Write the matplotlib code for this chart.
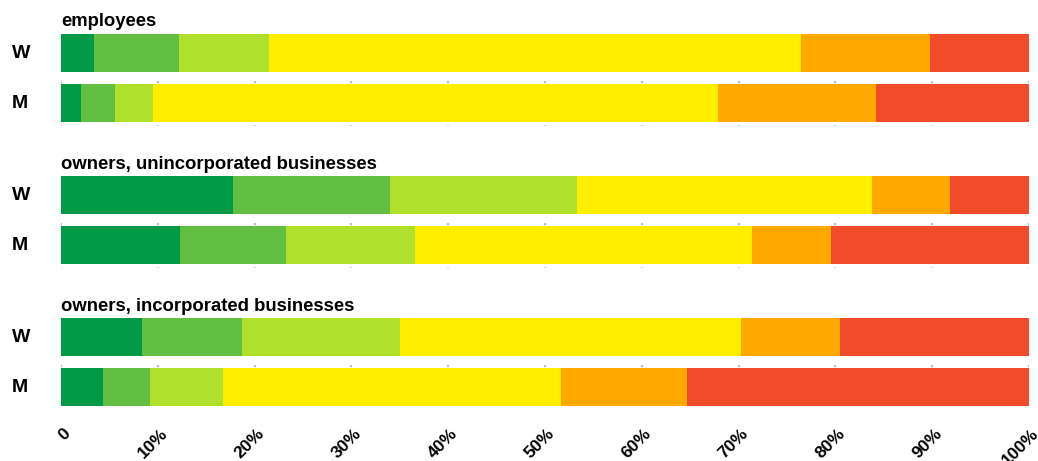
import numpy as np
import matplotlib
matplotlib.use("Agg")
import matplotlib.pyplot as plt

plt.rcParams["font.family"] = ["Liberation Sans", "DejaVu Sans"]

GROUPS = ["employees", "owners, unincorporated businesses", "owners, incorporated businesses"]
SEXES = ["W", "M"]
COLORS = ["#009a46", "#63bf41", "#afe02b", "#ffee00", "#ffa800", "#f04b2a"]

# shares (%) per category, left to right
EMP_W = [3.4, 8.8, 9.3, 54.9, 13.4, 10.2]
EMP_M = [2.1, 3.5, 3.9, 58.4, 16.3, 15.8]
UNINC_W = [17.8, 16.2, 19.3, 30.5, 8.0, 8.2]
UNINC_M = [12.3, 10.9, 13.4, 34.8, 8.1, 20.5]
INC_W = [8.4, 10.3, 16.3, 35.2, 10.3, 19.5]
INC_M = [4.3, 4.9, 7.5, 35.0, 13.0, 35.3]
DATA = [[EMP_W, EMP_M], [UNINC_W, UNINC_M], [INC_W, INC_M]]

TICKS = np.arange(0, 101, 10)
TICKLABELS = ["0"] + [f"{t}%" for t in TICKS[1:]]

fig = plt.figure(figsize=(10.38, 4.61), dpi=100)
ax = fig.add_axes([61 / 1038, 53 / 461, 968 / 1038, 408 / 461])
ax.set_xlim(0, 100)
ax.set_ylim(8.16, 0)

H = 0.76
for g, (name, rows) in enumerate(zip(GROUPS, DATA)):
    y0 = 1.06 + g * 2.84
    ax.text(0, y0 - H / 2 - 0.07, name, fontsize=13.3, fontweight="bold", va="bottom", ha="left")
    for i, (sex, vals) in enumerate(zip(SEXES, rows)):
        y = y0 + i
        left = np.concatenate([[0], np.cumsum(vals)[:-1]])
        ax.barh(y, vals, left=left, height=H, color=COLORS, zorder=2, linewidth=0)
        ax.vlines(TICKS, y - H / 2 - (0.06 if i else 0), y + H / 2 + 0.08, colors="#bdbdbd",
                  linestyles=(0, (1, 3)), linewidth=1.6, zorder=1)
        ax.text(-0.051, y, sex, transform=ax.get_yaxis_transform(), fontsize=14,
                fontweight="bold", ha="left", va="center")

ax.set_yticks([])
ax.set_xticks(TICKS)
ax.set_xticklabels(TICKLABELS, rotation=45, fontsize=12.5, fontweight="bold",
                   ha="right", va="top", rotation_mode="anchor")
ax.tick_params(axis="x", length=0, pad=13)
for lab in ax.get_xticklabels():
    lab.set_transform(lab.get_transform() + matplotlib.transforms.ScaledTranslation(0.02, 0, fig.dpi_scale_trans))
for s in ax.spines.values():
    s.set_visible(False)

fig.savefig("out.png", dpi=100)
